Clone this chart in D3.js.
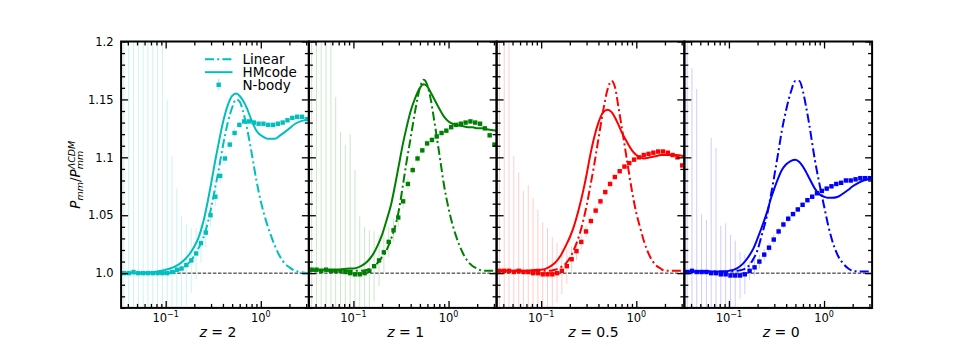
<!DOCTYPE html>
<html>
<head>
<meta charset="utf-8">
<script src="https://cdn.jsdelivr.net/npm/d3@7"></script>
<style>
  body { margin: 0; background: #fff; }
  svg text { font-family: "DejaVu Sans", sans-serif; fill: #000; }
</style>
</head>
<body>
<div id="container"></div>
<script>

// k grid of the model curves (h/Mpc)
const kLine = [0.034, 0.05, 0.07, 0.09, 0.1, 0.12, 0.14, 0.16, 0.18, 0.2, 0.22, 0.25, 0.28, 0.3, 0.33, 0.36,
  0.4, 0.45, 0.5, 0.55, 0.6, 0.65, 0.7, 0.8, 0.9, 1.0, 1.1, 1.2, 1.4, 1.6, 1.8, 2.0, 2.3, 2.6, 3.2];

// Linear and HMcode ratios, one array per redshift
const linZ2 = [1.000,1.000,1.000,1.000,1.000,1.001,1.003,1.006,1.010,1.015,1.021,1.031,1.045,1.056,1.073,1.089,
  1.110,1.130,1.143,1.150,1.148,1.140,1.129,1.104,1.080,1.062,1.049,1.039,1.024,1.014,1.008,1.005,1.002,1.001,1.000];
const hmZ2 = [1.000,1.000,1.0005,1.002,1.003,1.005,1.008,1.012,1.017,1.023,1.030,1.045,1.064,1.077,1.096,1.112,
  1.130,1.145,1.153,1.155,1.153,1.149,1.144,1.132,1.123,1.119,1.117,1.116,1.116,1.119,1.122,1.125,1.129,1.131,1.133];
const linZ1 = [1.002,1.002,1.002,1.002,1.002,1.002,1.003,1.005,1.009,1.014,1.019,1.030,1.043,1.054,1.075,1.095,
  1.117,1.142,1.160,1.167,1.162,1.150,1.134,1.103,1.075,1.056,1.042,1.032,1.018,1.010,1.006,1.004,1.002,1.002,1.002];
const hmZ1 = [1.003,1.003,1.003,1.004,1.004,1.006,1.010,1.016,1.024,1.033,1.044,1.060,1.080,1.093,1.111,1.125,
  1.140,1.152,1.160,1.163,1.161,1.156,1.151,1.142,1.135,1.131,1.129,1.128,1.127,1.126,1.126,1.125,1.125,1.124,1.123];
const linZ05 = [1.002,1.002,1.002,1.002,1.002,1.002,1.003,1.005,1.008,1.013,1.020,1.032,1.047,1.058,1.076,1.093,
  1.116,1.141,1.159,1.166,1.160,1.143,1.127,1.097,1.071,1.052,1.039,1.028,1.014,1.007,1.004,1.002,1.002,1.002,1.002];
const hmZ05 = [1.002,1.002,1.002,1.003,1.003,1.005,1.009,1.015,1.023,1.031,1.040,1.056,1.073,1.085,1.103,1.117,
  1.130,1.139,1.141,1.139,1.134,1.128,1.122,1.113,1.106,1.102,1.100,1.099,1.100,1.101,1.102,1.102,1.102,1.102,1.101];
const linZ0 = [1.0015,1.0015,1.0015,1.0015,1.0015,1.002,1.003,1.006,1.012,1.020,1.032,1.049,1.070,1.084,1.104,1.123,
  1.141,1.157,1.166,1.166,1.157,1.143,1.128,1.098,1.076,1.058,1.042,1.030,1.015,1.008,1.004,1.002,1.0015,1.0015,1.0015];
const hmZ0 = [1.0015,1.0015,1.0015,1.0015,1.002,1.004,1.008,1.014,1.021,1.030,1.039,1.052,1.066,1.073,1.082,1.089,
  1.094,1.097,1.098,1.096,1.092,1.087,1.082,1.073,1.068,1.066,1.065,1.065,1.066,1.069,1.072,1.075,1.078,1.080,1.082];

// N-body k bins
const kNbody = [0.0364, 0.0409, 0.0459, 0.0516, 0.058, 0.0651, 0.0732, 0.0822, 0.0924, 0.1038, 0.1166, 0.131,
  0.147, 0.165, 0.186, 0.209, 0.235, 0.264, 0.296, 0.333, 0.374, 0.42, 0.472, 0.53, 0.595, 0.669, 0.751,
  0.844, 0.948, 1.066, 1.197, 1.345, 1.511, 1.698, 1.907, 2.143, 2.407, 2.705, 3.039];

// N-body ratios and their error bars
const nbZ2 = [1.000,1.000,1.001,1.000,1.000,1.000,1.000,1.000,1.000,1.000,1.001,1.003,1.004,1.007,1.011,1.017,
  1.026,1.035,1.050,1.066,1.084,1.099,1.111,1.121,1.128,1.131,1.131,1.130,1.129,1.129,1.128,1.128,1.129,1.130,
  1.132,1.134,1.135,1.135,1.133];
const errZ2 = [0.45,0.42,0.38,0.35,0.32,0.28,0.25,0.22,0.20,0.15,0.10,0.07,0.045,0.035,0.028,0.022,0.017,0.013,
  0.010,0.008,0.006,0.005,0.004,0.004,0.003,0.003,0.003,0.002,0.002,0.002,0.002,0.002,0.002,0.002,0.002,0.002,
  0.002,0.002,0.002];
const nbZ1 = [1.003,1.003,1.002,1.003,1.002,1.002,1.002,1.001,1.000,0.999,0.999,1.000,1.002,1.006,1.011,1.018,
  1.027,1.037,1.048,1.062,1.077,1.089,1.099,1.106,1.112,1.115,1.118,1.121,1.123,1.126,1.128,1.129,1.130,1.131,
  1.130,1.129,1.125,1.119,1.111];
const errZ1 = [0.40,0.35,0.30,0.26,0.22,0.15,0.12,0.11,0.12,0.09,0.05,0.04,0.035,0.03,0.022,0.017,0.013,0.010,
  0.008,0.006,0.005,0.004,0.004,0.003,0.003,0.003,0.002,0.002,0.002,0.002,0.002,0.002,0.002,0.002,0.002,0.002,
  0.002,0.002,0.002];
const nbZ05 = [1.002,1.002,1.002,1.001,1.002,1.001,1.001,1.000,1.000,0.999,0.999,0.999,1.000,1.002,1.006,1.012,
  1.019,1.027,1.036,1.045,1.054,1.062,1.070,1.077,1.083,1.088,1.092,1.095,1.098,1.100,1.102,1.103,1.104,1.105,
  1.105,1.104,1.102,1.100,1.093];
const errZ05 = [0.40,0.35,0.25,0.10,0.085,0.07,0.075,0.065,0.055,0.045,0.04,0.032,0.026,0.02,0.015,0.011,0.008,
  0.006,0.005,0.004,0.004,0.003,0.003,0.003,0.002,0.002,0.002,0.002,0.002,0.002,0.002,0.002,0.002,0.002,0.002,
  0.002,0.002,0.002,0.002];
const nbZ0 = [1.001,1.002,1.001,1.001,1.001,1.000,1.000,0.999,0.999,0.998,0.998,0.998,0.999,1.002,1.005,1.010,
  1.016,1.022,1.029,1.036,1.042,1.047,1.051,1.055,1.059,1.063,1.066,1.069,1.071,1.073,1.075,1.077,1.078,1.080,
  1.080,1.081,1.082,1.082,1.082];
const errZ0 = [0.20,0.175,0.158,0.05,0.045,0.117,0.108,0.042,0.044,0.035,0.03,0.02,0.017,0.008,0.007,0.006,0.005,
  0.004,0.004,0.003,0.003,0.003,0.002,0.002,0.002,0.002,0.002,0.002,0.002,0.002,0.002,0.002,0.002,0.002,0.002,
  0.002,0.002,0.002,0.002];

const zLabels = ["2", "1", "0.5", "0"];
const colors = ["#00bfbf", "#008000", "#ff0000", "#0000ff"];
const legendLabels = ["Linear", "HMcode", "N-body"];
const yMajor = [1.0, 1.05, 1.1, 1.15, 1.2];
const xMajor = [0.1, 1];
const xMinor = [0.04, 0.05, 0.06, 0.07, 0.08, 0.09, 0.2, 0.3, 0.4, 0.5, 0.6, 0.7, 0.8, 0.9, 2, 3];
const xTickExp = ["\u22121", "0"];

const panels = [
  { lin: linZ2, hm: hmZ2, nb: nbZ2, err: errZ2 },
  { lin: linZ1, hm: hmZ1, nb: nbZ1, err: errZ1 },
  { lin: linZ05, hm: hmZ05, nb: nbZ05, err: errZ05 },
  { lin: linZ0, hm: hmZ0, nb: nbZ0, err: errZ0 }
];

// Dimensions
const W = 969, H = 346;
const plotL = 121.1, plotR = 872.1, plotT = 41.5, plotB = 307.9;
const pw = (plotR - plotL) / 4;
const dashDot = "9,3.2,2,3.2";

const svg = d3.select("#container").append("svg")
  .attr("width", W).attr("height", H);

const y = d3.scaleLinear().domain([0.97, 1.2]).range([plotB, plotT]);
const yMinor = d3.range(97, 121).map(d => d / 100).filter(d => Math.round(d * 100) % 5 !== 0);

panels.forEach((p, i) => {
  const x0 = plotL + i * pw;
  const x = d3.scaleLog().domain([0.034, 3.2]).range([x0, x0 + pw]);
  const col = colors[i];
  const g = svg.append("g");

  svg.append("clipPath").attr("id", "clip" + i)
    .append("rect").attr("x", x0).attr("y", plotT).attr("width", pw).attr("height", plotB - plotT);

  const plot = g.append("g").attr("clip-path", `url(#clip${i})`);

  // reference line at 1
  plot.append("line")
    .attr("x1", x0).attr("x2", x0 + pw).attr("y1", y(1)).attr("y2", y(1))
    .attr("stroke", "#000").attr("stroke-width", 0.9).attr("stroke-dasharray", "3.5,1.6");

  const nbody = kNbody.map((k, j) => ({ k, v: p.nb[j], e: p.err[j] }));

  // error bars
  plot.selectAll(".eb").data(nbody).enter().append("line")
    .attr("x1", d => x(d.k)).attr("x2", d => x(d.k))
    .attr("y1", d => y(d.v - d.e)).attr("y2", d => y(d.v + d.e))
    .attr("stroke", col).attr("stroke-opacity", 0.2).attr("stroke-width", 1);

  const line = d3.line().x(d => x(d.k)).y(d => y(d.v)).curve(d3.curveMonotoneX);

  plot.append("path")
    .attr("d", line(kLine.map((k, j) => ({ k, v: p.lin[j] }))))
    .attr("fill", "none").attr("stroke", col).attr("stroke-width", 2)
    .attr("stroke-dasharray", dashDot);

  plot.append("path")
    .attr("d", line(kLine.map((k, j) => ({ k, v: p.hm[j] }))))
    .attr("fill", "none").attr("stroke", col).attr("stroke-width", 2);

  plot.selectAll(".pt").data(nbody).enter().append("rect")
    .attr("x", d => x(d.k) - 2.2).attr("y", d => y(d.v) - 2.2)
    .attr("width", 4.4).attr("height", 4.4).attr("fill", col);

  // ticks, all pointing inside
  const tickStyle = sel => {
    sel.select(".domain").remove();
    sel.selectAll(".tick line").attr("stroke", "#000").attr("stroke-width", 1.3);
  };
  const axes = [
    [d3.axisBottom, `translate(0,${plotB})`],
    [d3.axisTop, `translate(0,${plotT})`]
  ];
  axes.forEach(([ax, tr]) => {
    g.append("g").attr("transform", tr).call(ax(x).tickValues(xMajor).tickSize(-7).tickFormat("")).call(tickStyle);
    g.append("g").attr("transform", tr).call(ax(x).tickValues(xMinor).tickSize(-4).tickFormat("")).call(tickStyle);
  });
  g.append("g").attr("transform", `translate(${x0},0)`)
    .call(d3.axisLeft(y).tickValues(yMajor).tickSize(-7).tickPadding(7.5)
      .tickFormat(i === 0 ? (d => d === 1 ? "1.0" : String(+d.toFixed(2))) : ""))
    .call(tickStyle)
    .selectAll("text").style("font-size", "11.5px").style("font-family", "DejaVu Sans");
  g.append("g").attr("transform", `translate(${x0},0)`)
    .call(d3.axisLeft(y).tickValues(yMinor).tickSize(-4).tickFormat("")).call(tickStyle);
  g.append("g").attr("transform", `translate(${x0 + pw},0)`)
    .call(d3.axisRight(y).tickValues(yMajor).tickSize(-7).tickFormat("")).call(tickStyle);
  g.append("g").attr("transform", `translate(${x0 + pw},0)`)
    .call(d3.axisRight(y).tickValues(yMinor).tickSize(-4).tickFormat("")).call(tickStyle);

  // frame
  g.append("rect").attr("x", x0).attr("y", plotT).attr("width", pw).attr("height", plotB - plotT)
    .attr("fill", "none").attr("stroke", "#000").attr("stroke-width", 2);

  // x tick labels 10^n
  xMajor.forEach((v, j) => {
    const t = g.append("text").attr("x", x(v)).attr("y", 321.5)
      .attr("text-anchor", "middle").style("font-size", "11.5px");
    t.append("tspan").text("10");
    t.append("tspan").attr("dy", -5).style("font-size", "8px").text(xTickExp[j]);
  });

  // z label
  const zt = g.append("text").attr("x", x0 + pw / 2 + 3).attr("y", 337)
    .attr("text-anchor", "middle").style("font-size", "14px");
  zt.append("tspan").style("font-style", "italic").text("z");
  zt.append("tspan").text(" = " + zLabels[i]);
});

// legend (first panel)
const lg = svg.append("g");
const lc = colors[0];
lg.append("line").attr("x1", 205).attr("x2", 232.5).attr("y1", 59.3).attr("y2", 59.3)
  .attr("stroke", lc).attr("stroke-width", 2).attr("stroke-dasharray", dashDot);
lg.append("line").attr("x1", 205).attr("x2", 232.5).attr("y1", 72.2).attr("y2", 72.2)
  .attr("stroke", lc).attr("stroke-width", 2);
lg.append("line").attr("x1", 218.7).attr("x2", 218.7).attr("y1", 79).attr("y2", 90.5)
  .attr("stroke", lc).attr("stroke-opacity", 0.35).attr("stroke-width", 1);
lg.append("rect").attr("x", 216.5).attr("y", 82.6).attr("width", 4.4).attr("height", 4.4).attr("fill", lc);
legendLabels.forEach((l, i) => {
  lg.append("text").attr("x", 242.5).attr("y", 64.2 + i * 12.8).style("font-size", "13.5px").text(l);
});

// y label P_mm / P_mm^LCDM
const ylab = svg.append("g").attr("transform", `translate(80,${(plotT + plotB) / 2}) rotate(-90)`);
const inner = ylab.append("g");
let cx = 0;
function piece(t, fs, dy, italic) {
  const el = inner.append("text").attr("x", cx).attr("y", dy)
    .style("font-size", fs + "px").style("font-style", italic ? "italic" : "normal").text(t);
  const w = el.node().getComputedTextLength();
  cx += w;
  return w;
}
piece("P", 13.5, 0, true);
piece("mm", 9.5, 3, true);
piece("/", 13.5, 0, false);
piece("P", 13.5, 0, true);
const start = cx;
const w1 = piece("\u039BCDM", 9.5, -5.5, true);
cx = start;
const w2 = piece("mm", 9.5, 3, true);
cx = start + Math.max(w1, w2);
inner.attr("transform", `translate(${-cx / 2},0)`);

</script>
</body>
</html>
